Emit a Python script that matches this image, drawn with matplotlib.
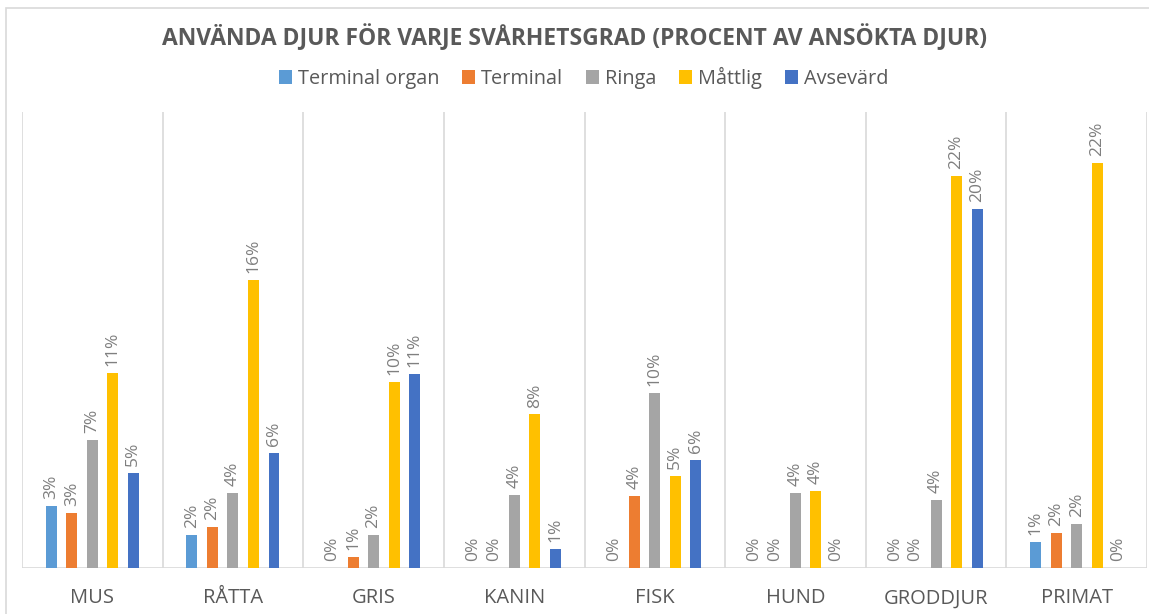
import matplotlib.pyplot as plt
import numpy as np
from matplotlib.patches import Rectangle

plt.rcParams['font.family'] = ['Open Sans', 'DejaVu Sans']

# --- Data (percent of applied animals) ---
categories = ['MUS', 'RÅTTA', 'GRIS', 'KANIN', 'FISK', 'HUND', 'GRODDJUR', 'PRIMAT']
series_names = ['Terminal organ', 'Terminal', 'Ringa', 'Måttlig', 'Avsevärd']
terminal_organ = [3.4, 1.8, 0.0, 0.0, 0.0, 0.0, 0.0, 1.4]
terminal = [3.0, 2.2, 0.6, 0.0, 3.9, 0.0, 0.0, 1.9]
ringa = [7.0, 4.1, 1.8, 4.0, 9.6, 4.1, 3.7, 2.4]
mattlig = [10.7, 15.8, 10.2, 8.4, 5.0, 4.2, 21.5, 22.2]
avsevard = [5.2, 6.3, 10.6, 1.0, 5.9, 0.0, 19.7, 0.0]

colors = ['#5B9BD5', '#ED7D31', '#A5A5A5', '#FFC000', '#4472C4']
all_series = [terminal_organ, terminal, ringa, mattlig, avsevard]

fig = plt.figure(figsize=(11.49, 6.14), dpi=100)
ax = fig.add_axes([22 / 1149, 1 - 567.5 / 614, 1125 / 1149, 455.5 / 614])

# chart area border
fig.patches.append(Rectangle((6 / 1149, -0.1), 1.2, 1 - 8 / 614 + 0.1,
                             transform=fig.transFigure, fill=False,
                             edgecolor='#d9d9d9', linewidth=1.2))

x = np.arange(len(categories))
step = 0.146
width = 0.078
text_grey = '#595959'
label_grey = '#7f7f7f'

for i, (name, vals, col) in enumerate(zip(series_names, all_series, colors)):
    pos = x + (i - 2) * step
    ax.bar(pos, vals, width=width, color=col, label=name, zorder=3)
    for px, v in zip(pos, vals):
        ax.annotate(f'{v:.0f}%', (px, v), xytext=(0, 5), textcoords='offset points',
                    rotation=90, ha='center', va='bottom', fontsize=12.5,
                    color=label_grey)

ax.set_xlim(-0.5, len(categories) - 0.5)
ax.set_ylim(0, 25)
for b in np.arange(len(categories) + 1) - 0.5:
    ax.axvline(b, color='#d9d9d9', linewidth=1.2, zorder=1)
ax.axhline(0, color='#d9d9d9', linewidth=1.2, zorder=2)

for s in ax.spines.values():
    s.set_visible(False)
ax.set_yticks([])
ax.set_xticks(x)
ax.set_xticklabels(categories, fontsize=14.5, color=text_grey)
ax.tick_params(axis='x', length=0, pad=15)

fig.text(0.5, 1 - 38 / 614, 'ANVÄNDA DJUR FÖR VARJE SVÅRHETSGRAD (PROCENT AV ANSÖKTA DJUR)',
         ha='center', va='center', fontsize=16.5, fontweight='bold', color=text_grey)

fig.legend(loc='center', bbox_to_anchor=(0.508, 1 - 78 / 614), ncol=5, frameon=False,
           fontsize=14.3, labelcolor=text_grey, handlelength=0.65, handleheight=0.65,
           handletextpad=0.3, columnspacing=1.15)

fig.savefig('out.png', dpi=100)
